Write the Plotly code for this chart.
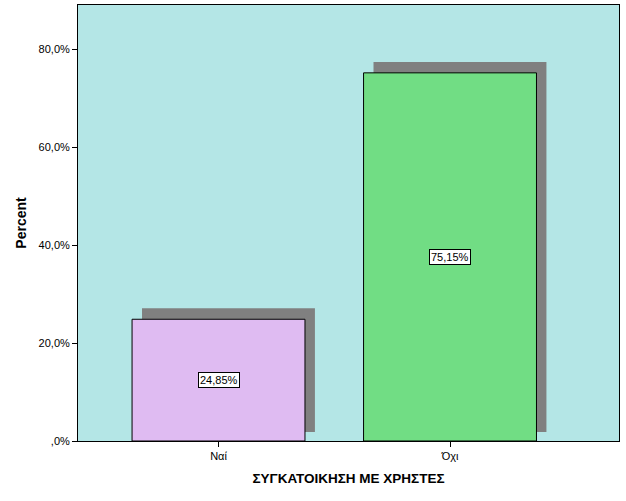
import plotly.graph_objects as go

categories = ["Ναί", "Όχι"]
percent = [24.85, 75.15]
bar_colors = ["#dfbbf2", "#71dd84"]
y_ticks = [0, 20, 40, 60, 80]
y_tick_labels = [",0%", "20,0%", "40,0%", "60,0%", "80,0%"]

pos = list(range(len(categories)))
bar_width = 0.747
shadow_dx = 0.043
shadow_base = 1.84
shadow_rise = 2.24

fig = go.Figure()

# drop shadows behind the bars
fig.add_bar(
    x=[p + shadow_dx for p in pos],
    y=[v + shadow_rise - shadow_base for v in percent],
    base=shadow_base,
    width=bar_width,
    marker_color="#808080",
    marker_line_width=0,
    hoverinfo="skip",
    showlegend=False,
)
fig.add_bar(
    x=pos,
    y=percent,
    width=bar_width,
    marker_color=bar_colors,
    marker_line=dict(color="black", width=1),
    showlegend=False,
)

for p, v in zip(pos, percent):
    fig.add_annotation(
        x=p, y=v / 2, xref="x", yref="y",
        text=f"{v:.2f}%".replace(".", ","),
        showarrow=False,
        bgcolor="white", bordercolor="black", borderwidth=1, borderpad=1,
        font=dict(size=11, color="black"),
    )

fig.update_layout(
    width=626, height=501,
    margin=dict(l=78, r=7, t=5, b=60),
    barmode="overlay",
    paper_bgcolor="white",
    plot_bgcolor="#b4e6e6",
    font=dict(family="Liberation Sans, Arial, sans-serif", color="black"),
)
fig.update_xaxes(
    range=[-0.607, 1.730],
    tickvals=pos, ticktext=categories,
    ticks="outside", ticklen=5, tickcolor="black",
    tickfont=dict(size=11),
    showgrid=False, zeroline=False,
    showline=True, linecolor="black", mirror=True,
    title=dict(text="<b>ΣΥΓΚΑΤΟΙΚΗΣΗ ΜΕ ΧΡΗΣΤΕΣ</b>", font=dict(size=13.5), standoff=12),
)
fig.update_yaxes(
    range=[0, 89],
    tickvals=y_ticks, ticktext=y_tick_labels,
    ticks="outside", ticklen=5, tickcolor="black",
    tickfont=dict(size=11),
    showgrid=False, zeroline=False,
    showline=True, linecolor="black", mirror=True,
    title=dict(text="<b>Percent</b>", font=dict(size=14), standoff=8),
)

# page body has a default 8px margin; drop it so the figure sits at the corner
fig.write_html(
    "out.html",
    config={"displayModeBar": False},
    post_script="document.body.style.margin='0';",
)
